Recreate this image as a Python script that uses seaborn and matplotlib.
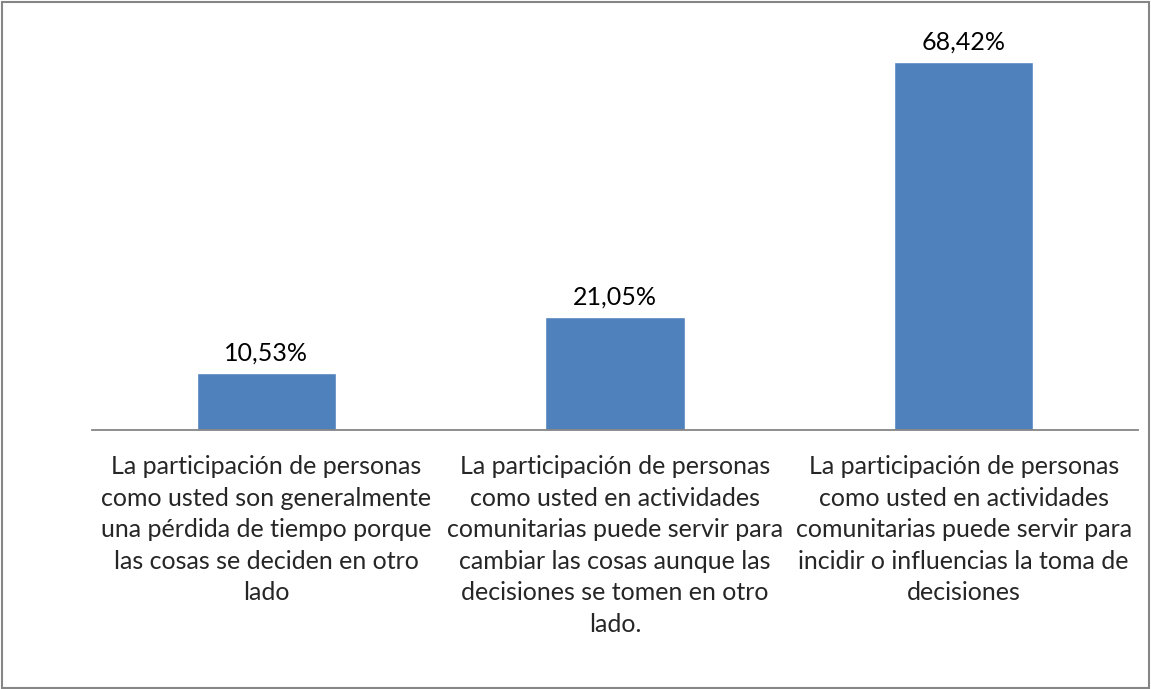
import matplotlib
matplotlib.use("Agg")
import matplotlib.pyplot as plt
import matplotlib.patches as mpatches
import pandas as pd
import seaborn as sns

# Data
categories = [
    "La participación de personas\ncomo usted son generalmente\nuna pérdida de tiempo porque\nlas cosas se deciden en otro\nlado",
    "La participación de personas\ncomo usted en actividades\ncomunitarias puede servir para\ncambiar las cosas aunque las\ndecisiones se tomen en otro\nlado.",
    "La participación de personas\ncomo usted en actividades\ncomunitarias puede servir para\nincidir o influencias la toma de\ndecisiones",
]
values = [10.53, 21.05, 68.42]
value_labels = ["10,53%", "21,05%", "68,42%"]

df = pd.DataFrame({"cat": categories, "val": values})

sns.set_style("white")
plt.rcParams["font.family"] = ["Lato", "DejaVu Sans"]

fig = plt.figure(figsize=(11.51, 6.89), dpi=100)
ax = fig.add_axes([92 / 1151, 259 / 689, 1046 / 1151, 390 / 689])

sns.barplot(data=df, x="cat", y="val", color="#4F81BD", saturation=1,
            width=0.4, ax=ax)

ax.set_ylim(0, 72.5)
ax.set_xlim(-0.5, 2.5)
ax.set_xlabel("")
ax.set_ylabel("")
ax.set_yticks([])

for i, (v, lab) in enumerate(zip(values, value_labels)):
    ax.text(i, v + 1.6, lab, ha="center", va="bottom", fontsize=18, color="#000000")

ax.set_xticks(range(len(categories)))
ax.set_xticklabels(categories, fontsize=18, linespacing=1.45)
ax.tick_params(axis="x", length=0, pad=18)

for s in ["top", "right", "left"]:
    ax.spines[s].set_visible(False)
ax.spines["bottom"].set_color("#868686")
ax.spines["bottom"].set_linewidth(1.3)

# outer border of the chart area
fig.patches.append(mpatches.Rectangle((0.0015, 0.002), 0.997, 0.995, transform=fig.transFigure,
                                      fill=False, edgecolor="#868686", linewidth=1.5))

fig.savefig("out.png", dpi=100)
